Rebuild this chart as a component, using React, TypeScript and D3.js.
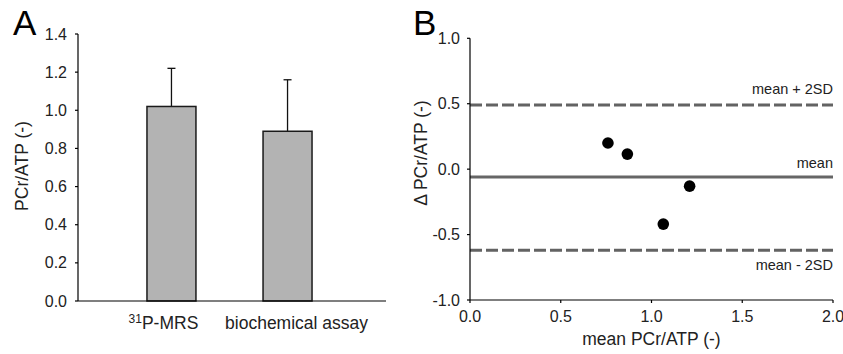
import * as d3 from 'd3'

// panel A – group means with SD
const categories = ['31P-MRS', 'biochemical assay']
const barMeans = [1.02, 0.89]
const barSD = [0.2, 0.27]
const yTicksA = [0, 0.2, 0.4, 0.6, 0.8, 1.0, 1.2, 1.4]

// panel B – Bland-Altman
const pairMeans = [0.76, 0.867, 1.21, 1.065]
const pairDiffs = [0.2, 0.115, -0.13, -0.42]
const meanDiff = -0.06
const upperLoA = 0.49
const lowerLoA = -0.62
const xTicksB = [0, 0.5, 1.0, 1.5, 2.0]
const yTicksB = [-1.0, -0.5, 0.0, 0.5, 1.0]

const FONT = '"Liberation Sans", Arial, Helvetica, sans-serif'
const fmt = (v: number) => v.toFixed(1)

function PanelA() {
  const x = d3.scaleBand<string>()
    .domain(categories)
    .range([75, 384])
    .paddingInner(0.578)
    .paddingOuter(0.62)
  const y = d3.scaleLinear().domain([0, 1.4]).range([301, 34])
  const axisX = 78
  // labels sit slightly off the bar centres in the original
  const labelNudge = [-8, 9]

  return (
    <g>
      <text x={13} y={35} fontSize={35} fontFamily={FONT}>A</text>

      {categories.map((c, i) => {
        const cx = (x(c) ?? 0) + x.bandwidth() / 2
        return (
          <g key={c}>
            <line x1={cx} x2={cx} y1={y(barMeans[i])} y2={y(barMeans[i] + barSD[i])}
              stroke="#111" strokeWidth={1.3} />
            <line x1={cx - 4} x2={cx + 4} y1={y(barMeans[i] + barSD[i])} y2={y(barMeans[i] + barSD[i])}
              stroke="#111" strokeWidth={1.3} />
            <rect x={x(c)} y={y(barMeans[i])} width={x.bandwidth()} height={y(0) - y(barMeans[i])}
              fill="#b3b3b3" stroke="#1a1a1a" strokeWidth={1.5} />
          </g>
        )
      })}

      {/* axes */}
      <line x1={axisX} x2={axisX} y1={y(1.4)} y2={y(0)} stroke="#000" strokeWidth={1.2} />
      <line x1={axisX} x2={386} y1={y(0)} y2={y(0)} stroke="#000" strokeWidth={1.2} />
      {yTicksA.map(t => (
        <g key={t}>
          <line x1={axisX - 3} x2={axisX} y1={y(t)} y2={y(t)} stroke="#000" strokeWidth={1.2} />
          <text x={axisX - 11} y={y(t)} dy="0.35em" textAnchor="end" fontSize={16} fontFamily={FONT} fill="#222">
            {fmt(t)}
          </text>
        </g>
      ))}

      <text x={(x(categories[0]) ?? 0) + x.bandwidth() / 2 + labelNudge[0]} y={329}
        textAnchor="middle" fontSize={17.5} fontFamily={FONT} fill="#222">
        <tspan fontSize={12} dy={-6}>31</tspan>
        <tspan dy={6}>P-MRS</tspan>
      </text>
      <text x={(x(categories[1]) ?? 0) + x.bandwidth() / 2 + labelNudge[1]} y={329}
        textAnchor="middle" fontSize={17.5} fontFamily={FONT} fill="#222">
        {categories[1]}
      </text>

      <text transform={`translate(28,166) rotate(-90)`} textAnchor="middle"
        fontSize={17.5} fontFamily={FONT} fill="#222">PCr/ATP (-)</text>
    </g>
  )
}

function PanelB() {
  const x = d3.scaleLinear().domain([0, 2]).range([470, 833])
  const y = d3.scaleLinear().domain([-1, 1]).range([300, 38.3])
  const right = x(2)

  return (
    <g>
      <text x={413} y={35} fontSize={35} fontFamily={FONT}>B</text>

      {/* limits of agreement and mean difference */}
      {[upperLoA, lowerLoA].map(v => (
        <line key={v} x1={x(0)} x2={right} y1={y(v)} y2={y(v)}
          stroke="#636363" strokeWidth={3} strokeDasharray="12 4" />
      ))}
      <line x1={x(0)} x2={right} y1={y(meanDiff)} y2={y(meanDiff)} stroke="#666" strokeWidth={3} />

      <text x={right} y={y(upperLoA) - 11} textAnchor="end" fontSize={14.5} fontFamily={FONT} fill="#222">mean + 2SD</text>
      <text x={right} y={y(meanDiff) - 9} textAnchor="end" fontSize={14.5} fontFamily={FONT} fill="#222">mean</text>
      <text x={right} y={y(lowerLoA) + 20} textAnchor="end" fontSize={14.5} fontFamily={FONT} fill="#222">mean - 2SD</text>

      {pairMeans.map((m, i) => (
        <circle key={i} cx={x(m)} cy={y(pairDiffs[i])} r={5.8} fill="#000" />
      ))}

      {/* axes */}
      <line x1={x(0)} x2={x(0)} y1={y(1)} y2={y(-1)} stroke="#000" strokeWidth={1.2} />
      <line x1={x(0)} x2={right} y1={y(-1)} y2={y(-1)} stroke="#000" strokeWidth={1.2} />
      {yTicksB.map(t => (
        <g key={t}>
          <line x1={x(0) - 3} x2={x(0)} y1={y(t)} y2={y(t)} stroke="#000" strokeWidth={1.2} />
          <text x={x(0) - 10} y={y(t)} dy="0.35em" textAnchor="end" fontSize={16} fontFamily={FONT} fill="#222">
            {fmt(t)}
          </text>
        </g>
      ))}
      {xTicksB.map(t => (
        <g key={t}>
          <line x1={x(t)} x2={x(t)} y1={y(-1)} y2={y(-1) + 3} stroke="#000" strokeWidth={1.2} />
          <text x={x(t)} y={y(-1) + 22} textAnchor="middle" fontSize={16} fontFamily={FONT} fill="#222">
            {fmt(t)}
          </text>
        </g>
      ))}

      <text x={(x(0) + right) / 2} y={345} textAnchor="middle" fontSize={17.5} fontFamily={FONT} fill="#222">
        mean PCr/ATP (-)
      </text>
      <text transform={`translate(427,153) rotate(-90)`} textAnchor="middle"
        fontSize={17.5} fontFamily={FONT} fill="#222">Δ PCr/ATP (-)</text>
    </g>
  )
}

export default function App() {
  return (
    <svg width={843} height={354} style={{ position: 'absolute', left: 0, top: 0, background: '#fff' }}>
      <PanelA />
      <PanelB />
    </svg>
  )
}
